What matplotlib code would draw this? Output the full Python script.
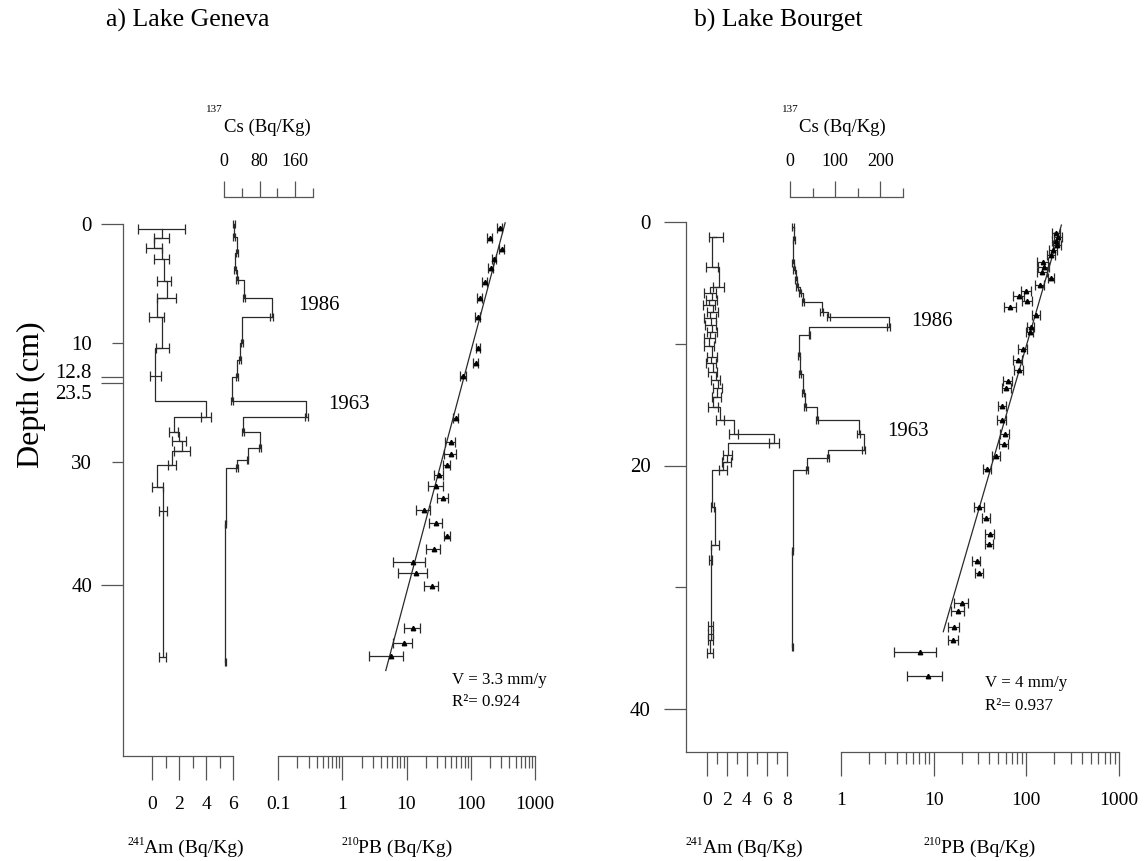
import numpy as np
import matplotlib
matplotlib.use("Agg")
import matplotlib.pyplot as plt
from matplotlib.ticker import FixedLocator, FixedFormatter, NullFormatter, LogLocator

plt.rcParams['font.family'] = ['Liberation Serif', 'DejaVu Serif']
nan = np.nan

# ------------------------------------------------------------------ data
# Panel a : Lake Geneva (depth in cm, core has a gap between 12.8 and 23.5 cm)
AM_A_DEPTH = [0.42, 1.2, 2.0, 2.9, 4.8, 6.2, 7.8, 10.4, 12.75, 24.97, 26.3, 27.5, 28.3, 29.1, 30.2, 32.0, 34.0, 45.9]
AM_A_VALUE = [0.73, 0.72, 0.12, 0.72, 0.89, 1.09, 0.35, 0.77, 0.25, 0.25, 4.0, 1.6, 2.0, 2.2, 1.46, 0.40, 0.79, 0.79]
AM_A_ERR = [1.74, 0.54, 0.59, 0.54, 0.50, 0.72, 0.54, 0.50, 0.41, nan, 0.35, 0.35, 0.53, 0.59, 0.28, 0.41, 0.30, 0.25]

CS_A_DEPTH = [0.0, 1.06, 2.46, 3.86, 4.7, 6.24, 7.78, 10.0, 11.4, 12.8, 24.97, 26.3, 27.5, 28.8, 29.8, 30.5, 35.0, 46.3]
CS_A_VALUE = [22.5, 22.5, 28.5, 24.8, 30.0, 45.8, 107.0, 39.8, 36.0, 28.5, 17.3, 184.7, 43.5, 81.0, 53.0, 28.5, 4.0, 2.5]
CS_A_ERR = [2, 2, 2, 2, 2, 2, 3, 2, 2, 2, 2, 3, 2, 3, 2, 2, 1, 1]

PB_A_DEPTH = [0.36, 1.2, 2.12, 2.96, 3.67, 4.84, 6.24, 7.78, 10.43, 11.64, 12.76, 26.36, 28.37, 29.33,
              30.25, 31.04, 31.94, 32.94, 33.9, 34.98, 36.02, 37.11, 38.12, 39.06, 40.1, 43.55, 44.73, 45.82]
PB_A_VALUE = [284, 198, 302, 231, 203, 166, 139, 128, 130, 119, 76, 58.6, 48.4, 48.4,
              42, 32.2, 29.3, 37.2, 18.6, 29.3, 42.9, 26.9, 12.7, 14.0, 25.0, 12.7, 9.1, 5.7]
PB_A_ERR = [25, 17, 26, 20, 18, 15, 12, 11, 11, 10, 7, 5.1, 8.2, 10.2,
            5.3, 5.0, 7.9, 7.3, 4.5, 7.0, 4.3, 6.8, 6.6, 6.5, 6.0, 3.4, 2.9, 3.1]
PB_FIT_A_DEPTH = [-0.1, 47.0]
PB_FIT_A_VALUE = [343, 4.76]

# Panel b : Lake Bourget
AM_B_DEPTH = [1.2, 3.67, 5.3, 5.86, 6.4, 6.8, 7.37, 7.9, 8.46, 9.0, 9.55, 10.2, 11.06, 11.6, 12.3, 13.0,
              13.66, 14.35, 15.17, 16.26, 17.4, 18.18, 19.1, 19.7, 20.37, 23.4, 26.5, 27.76, 33.2, 33.8, 34.3, 35.4]
AM_B_VALUE = [0.9, 0.5, 1.2, 0.3, 0.5, 0.2, 0.6, 0.3, 0.4, 0.5, 0.3, 0.2, 0.5, 0.4, 0.6, 0.9,
              1.1, 1.0, 0.6, 1.3, 2.7, 6.7, 2.07, 2.0, 1.6, 0.53, 0.8, 0.37, 0.4, 0.4, 0.4, 0.3]
AM_B_ERR = [0.67, 0.58, 0.55, 0.58, 0.55, 0.6, 0.55, 0.6, 0.55, 0.5, 0.55, 0.5, 0.5, 0.5, 0.45, 0.45,
            0.45, 0.45, 0.5, 0.4, 0.45, 0.53, 0.42, 0.45, 0.37, 0.17, 0.43, 0.15, 0.25, 0.25, 0.25, 0.33]

CS_B_DEPTH = [0.38, 1.5, 3.4, 3.94, 4.76, 5.3, 5.86, 6.6, 7.37, 7.78, 8.6, 9.28, 11.0, 12.5, 14.07,
              15.17, 16.3, 17.4, 18.7, 19.4, 20.37, 27.0, 34.9]
CS_B_VALUE = [6, 9, 6, 9, 13, 16, 22, 28, 70, 85, 218, 43, 20, 22, 28, 33, 59, 152, 163, 84, 37, 6, 5]
CS_B_ERR = [2, 3, 2, 2, 2, 2, 2, 2, 3, 3, 4, 2, 2, 2, 2, 2, 2, 3, 4, 2, 2, 1, 1]

PB_B_DEPTH = [0.9, 1.2, 1.6, 1.9, 2.3, 2.7, 3.26, 3.67, 4.08, 4.6, 5.17, 5.7, 6.1, 6.5, 6.96, 7.64, 8.6, 9.0,
              10.4, 11.3, 12.16, 13.1, 13.66, 15.1, 16.3, 17.4, 18.2, 19.2, 20.3, 23.4, 24.3, 25.6, 26.45,
              27.84, 28.8, 31.3, 31.95, 33.3, 34.3, 35.3, 37.3]
PB_B_VALUE = [211, 220, 207, 215, 194, 186, 151, 154, 149, 186, 139, 100, 83, 102, 67, 128, 111, 109,
              92, 81.5, 83, 63.5, 61, 55, 54, 58.5, 57, 47.6, 37.7, 31, 37, 40.3, 39.6,
              29, 31, 20, 18.4, 16.6, 16.2, 7.2, 8.7]
PB_B_ERR = [20, 20, 20, 20, 18, 18, 20, 22, 20, 15, 15, 12, 12, 12, 10, 12, 10, 10,
            10, 9, 9, 7, 7, 6, 6, 7, 6, 5, 4, 3.7, 3.5, 4.2, 4.0,
            3, 3, 3.6, 3, 2.2, 2, 3.5, 3.5]
PB_FIT_B_DEPTH = [0.25, 33.65]
PB_FIT_B_VALUE = [239, 12.7]

# axis ticks / labels
DEPTH_A_MAJOR = [0, 12.8, 23.5, 40]
DEPTH_A_MAJOR_LABELS = ['0', '12.8', '23.5', '40']
DEPTH_A_LABEL_SHIFT = [0, -6, 9, 0]          # vertical label offsets (px) at the core gap
DEPTH_A_MINOR = [10, 30]
DEPTH_A_MINOR_LABELS = ['10', '30']
DEPTH_B_MAJOR = [0, 20, 40]
DEPTH_B_MAJOR_LABELS = ['0', '20', '40']
DEPTH_B_LABEL_SHIFT = [0, 0, 0]
DEPTH_B_MINOR = [10, 30]
DEPTH_B_MINOR_LABELS = ['', '']
AM_A_TICKS, AM_A_MINOR = [0, 2, 4, 6], [1, 3, 5]
AM_B_TICKS, AM_B_MINOR = [0, 2, 4, 6, 8], [1, 3, 5, 7]
CS_A_TICKS, CS_A_MINOR = [0, 80, 160], [40, 120, 200]
CS_B_TICKS, CS_B_MINOR = [0, 100, 200], [50, 150, 250]
PB_A_TICKS, PB_A_LABELS = [0.1, 1, 10, 100, 1000], ['0.1', '1', '10', '100', '1000']
PB_B_TICKS, PB_B_LABELS = [1, 10, 100, 1000], ['1', '10', '100', '1000']

# ------------------------------------------------------------------ figure
W, H, DPI = 1146, 861, 100
PX = 72.0 / DPI
fig = plt.figure(figsize=(W / DPI, H / DPI), dpi=DPI)
fig.patch.set_facecolor('white')

LC = '#2a2a2a'
AC = '#555555'
LW = 0.9


def rect(x0, y0, x1, y1):
    return [x0 / W, 1 - y1 / H, (x1 - x0) / W, (y1 - y0) / H]


def ftext(x, y, s, **kw):
    return fig.text(x / W, 1 - y / H, s, **kw)


# broken depth scale for panel a
BRK_TRUE = [-20.0, 0.0, 12.8, 23.5, 200.0]
BRK_PLOT = [-20.0 * 12.45 / 12.8, 0.0, 12.45, 12.95, 12.95 + 176.5]


def fwd_a(d):
    return np.interp(np.asarray(d, dtype=float), BRK_TRUE, BRK_PLOT)


def inv_a(u):
    return np.interp(np.asarray(u, dtype=float), BRK_PLOT, BRK_TRUE)


def new_ax(x0, x1, y0, y1, ylim, yfun=None):
    ax = fig.add_axes(rect(x0, y0, x1, y1))
    ax.patch.set_visible(False)
    if yfun is not None:
        ax.set_yscale('function', functions=yfun)
    ax.set_ylim(*ylim)
    for s in ax.spines.values():
        s.set_visible(False)
        s.set_color(AC)
        s.set_linewidth(LW)
    ax.tick_params(which='both', color=AC, width=LW, labelcolor='black', direction='out',
                   left=False, right=False, top=False, bottom=False,
                   labelleft=False, labelbottom=False, labeltop=False, labelright=False)
    return ax


def step_profile(ax, d, v, e, cap):
    ax.plot(v, d, drawstyle='steps-post', color=LC, lw=LW, clip_on=False)
    ax.errorbar(v, d, xerr=e, fmt='none', ecolor=LC, elinewidth=LW, capsize=cap, capthick=LW)


def panel(cfg):
    ylim = cfg['ylim']
    yfun = cfg.get('yfun')
    top, bot = 197, cfg['bot']
    # depth + Am axes
    ax = new_ax(cfg['depth_x'], cfg['am_x1'], top, bot, ylim, yfun)
    ax.set_xlim(*cfg['am_lim'])
    ax.spines['bottom'].set_visible(True)
    ax.spines['left'].set_visible(True)
    ax.spines['left'].set_bounds(0, ylim[0])
    ax.xaxis.set_major_locator(FixedLocator(cfg['am_ticks']))
    ax.xaxis.set_major_formatter(FixedFormatter([str(t) for t in cfg['am_ticks']]))
    ax.xaxis.set_minor_locator(FixedLocator(cfg['am_minor']))
    ax.xaxis.set_minor_formatter(NullFormatter())
    ax.tick_params(axis='x', which='major', bottom=True, labelbottom=True, length=24 * PX, pad=11.5, labelsize=14)
    ax.tick_params(axis='x', which='minor', bottom=True, length=12 * PX)
    # depth ticks: long at major positions, short at minor ones; labels drawn as annotations
    ax.yaxis.set_major_locator(FixedLocator(cfg['d_major']))
    ax.yaxis.set_minor_locator(FixedLocator(cfg['d_minor']))
    ax.yaxis.set_major_formatter(NullFormatter())
    ax.yaxis.set_minor_formatter(NullFormatter())
    ax.tick_params(axis='y', which='major', left=True, length=22 * PX)
    ax.tick_params(axis='y', which='minor', left=True, length=11 * PX)
    labs = list(zip(cfg['d_major'], cfg['d_major_labels'], cfg['d_shift'])) + \
        [(p, s, 0) for p, s in zip(cfg['d_minor'], cfg['d_minor_labels'])]
    for pos, lab, dy in labs:
        if lab:
            ax.annotate(lab, xy=(0, pos), xycoords=('axes fraction', 'data'),
                        xytext=(-cfg['d_gap'] * PX, -(dy + 2.5) * PX), textcoords='offset points',
                        ha='right', va='center', fontsize=15, annotation_clip=False)
    step_profile(ax, cfg['am'][0], cfg['am'][1], cfg['am'][2], 3.6)

    # Cs axes (scale on top)
    axc = new_ax(cfg['cs_x0'], cfg['cs_x1'], top, bot, ylim, yfun)
    axc.set_xlim(*cfg['cs_lim'])
    axc.spines['top'].set_visible(True)
    axc.xaxis.set_major_locator(FixedLocator(cfg['cs_ticks']))
    axc.xaxis.set_major_formatter(FixedFormatter([str(t) for t in cfg['cs_ticks']]))
    axc.xaxis.set_minor_locator(FixedLocator(cfg['cs_minor']))
    axc.xaxis.set_minor_formatter(NullFormatter())
    axc.tick_params(axis='x', which='major', top=True, labeltop=True, length=16 * PX, pad=8, labelsize=13)
    axc.tick_params(axis='x', which='minor', top=True, length=9 * PX)
    step_profile(axc, cfg['cs'][0], cfg['cs'][1], cfg['cs'][2], 3.0)
    for s, (xv, yv) in cfg['events'].items():
        axc.text(xv, yv, s, fontsize=15, ha='left', va='center')

    # 210Pb axes (log scale at bottom)
    axp = new_ax(cfg['pb_x0'], cfg['pb_x1'], top, bot, ylim, yfun)
    axp.set_xscale('log')
    axp.set_xlim(*cfg['pb_lim'])
    axp.spines['bottom'].set_visible(True)
    axp.xaxis.set_major_locator(FixedLocator(cfg['pb_ticks']))
    axp.xaxis.set_major_formatter(FixedFormatter(cfg['pb_labels']))
    axp.xaxis.set_minor_locator(LogLocator(base=10, subs=np.arange(2, 10)))
    axp.xaxis.set_minor_formatter(NullFormatter())
    axp.tick_params(axis='x', which='major', bottom=True, labelbottom=True, length=24 * PX, pad=11.5, labelsize=14)
    axp.tick_params(axis='x', which='minor', bottom=True, length=12 * PX)
    pd_, pv, pe = cfg['pb']
    axp.errorbar(pv, pd_, xerr=pe, fmt='^', ms=3.2, mfc='black', mec='black', ecolor=LC,
                 elinewidth=LW, capsize=3.6, capthick=LW)
    axp.plot(cfg['fit'][1], cfg['fit'][0], color=LC, lw=LW)
    vx, vy1, vy2 = cfg['vtext']
    axp.text(vx, vy1, cfg['v'], fontsize=12.2, ha='left', va='center')
    axp.text(vx, vy2, cfg['r2'], fontsize=12.2, ha='left', va='center')
    return ax, axc, axp


# panel a layout
ppu_a = 12.25
ylim_a = (float(inv_a((756 - 224) / ppu_a)), float(inv_a((197 - 224) / ppu_a)))
panel(dict(
    ylim=ylim_a, yfun=(fwd_a, inv_a), bot=756,
    depth_x=123, am_x1=233, am_lim=(-2.15, 6), am_ticks=AM_A_TICKS, am_minor=AM_A_MINOR,
    d_major=DEPTH_A_MAJOR, d_major_labels=DEPTH_A_MAJOR_LABELS, d_shift=DEPTH_A_LABEL_SHIFT,
    d_minor=DEPTH_A_MINOR, d_minor_labels=DEPTH_A_MINOR_LABELS, d_gap=31,
    am=(AM_A_DEPTH, AM_A_VALUE, AM_A_ERR),
    cs_x0=224, cs_x1=313, cs_lim=(0, 200), cs_ticks=CS_A_TICKS, cs_minor=CS_A_MINOR,
    cs=(CS_A_DEPTH, CS_A_VALUE, CS_A_ERR),
    events={'1986': (167, 6.8), '1963': (234, 25.3)},
    pb_x0=278, pb_x1=535, pb_lim=(0.1, 1000), pb_ticks=PB_A_TICKS, pb_labels=PB_A_LABELS,
    pb=(PB_A_DEPTH, PB_A_VALUE, PB_A_ERR), fit=(PB_FIT_A_DEPTH, PB_FIT_A_VALUE),
    vtext=(50.8, 47.8, 49.6), v='V = 3.3 mm/y', r2='R\u00b2= 0.924',
))

# panel b layout
ppc_b = 12.175
ylim_b = ((752 - 222) / ppc_b, (197 - 222) / ppc_b)
panel(dict(
    ylim=ylim_b, bot=752,
    depth_x=686, am_x1=787, am_lim=(-2.1, 8), am_ticks=AM_B_TICKS, am_minor=AM_B_MINOR,
    d_major=DEPTH_B_MAJOR, d_major_labels=DEPTH_B_MAJOR_LABELS, d_shift=DEPTH_B_LABEL_SHIFT,
    d_minor=DEPTH_B_MINOR, d_minor_labels=DEPTH_B_MINOR_LABELS, d_gap=35,
    am=(AM_B_DEPTH, AM_B_VALUE, AM_B_ERR),
    cs_x0=790, cs_x1=903, cs_lim=(0, 250), cs_ticks=CS_B_TICKS, cs_minor=CS_B_MINOR,
    cs=(CS_B_DEPTH, CS_B_VALUE, CS_B_ERR),
    events={'1986': (267, 8.19), '1963': (215, 17.2)},
    pb_x0=841, pb_x1=1119, pb_lim=(1, 1000), pb_ticks=PB_B_TICKS, pb_labels=PB_B_LABELS,
    pb=(PB_B_DEPTH, PB_B_VALUE, PB_B_ERR), fit=(PB_FIT_B_DEPTH, PB_FIT_B_VALUE),
    vtext=(35.6, 37.9, 39.75), v='V = 4 mm/y', r2='R\u00b2= 0.937',
))

# ------------------------------------------------------------------ texts
ftext(188, 20, 'a) Lake Geneva', fontsize=18.5, ha='center', va='center')
ftext(778, 20, 'b) Lake Bourget', fontsize=18.5, ha='center', va='center')
ftext(31, 395, 'Depth (cm)', fontsize=23, rotation=90, ha='center', va='center')

for (sx, sy, sup, main_x, main) in [
    (206, 110, '137', 224, 'Cs (Bq/Kg)'),
    (782, 110, '137', 799, 'Cs (Bq/Kg)'),
]:
    ftext(sx, sy, sup, fontsize=8, ha='left', va='center')
    ftext(main_x, 127, main, fontsize=13.5, ha='left', va='center')

for (sx, sup, main_x, main) in [
    (128, '241', 144, 'Am (Bq/Kg)'),
    (341, '210', 358, 'PB (Bq/Kg)'),
    (686, '241', 703, 'Am (Bq/Kg)'),
    (924, '210', 941, 'PB (Bq/Kg)'),
]:
    ftext(sx, 842, sup, fontsize=8.5, ha='left', va='center')
    ftext(main_x, 848, main, fontsize=14, ha='left', va='center')

fig.savefig('out.png', dpi=DPI, facecolor='white')
